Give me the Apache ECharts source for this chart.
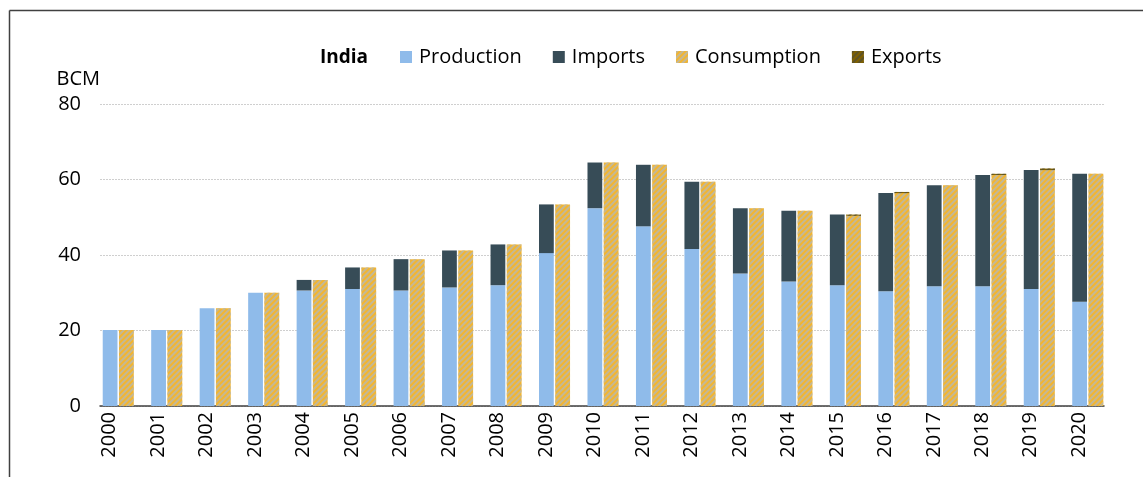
<!DOCTYPE html>
<html>
<head>
<meta charset="utf-8">
<script src="https://cdn.jsdelivr.net/npm/echarts@6/dist/echarts.min.js"></script>
<style>
html,body{margin:0;padding:0;background:#fff;}
#chart{width:1143px;height:477px;}
</style>
</head>
<body>
<div id="chart"></div>
<script>
var years = ['2000','2001','2002','2003','2004','2005','2006','2007','2008','2009','2010','2011','2012','2013','2014','2015','2016','2017','2018','2019','2020'];
var production = [20.1, 20.1, 25.9, 30.0, 30.6, 31.0, 30.6, 31.4, 32.0, 40.5, 52.4, 47.6, 41.6, 35.1, 33.0, 32.0, 30.4, 31.7, 31.7, 31.0, 27.6];
var imports = [0, 0, 0, 0, 2.8, 5.7, 8.3, 9.8, 10.8, 12.9, 12.1, 16.3, 17.8, 17.3, 18.7, 18.7, 26.0, 26.8, 29.5, 31.5, 33.9];
var consumption = [20.1, 20.1, 25.9, 30.0, 33.4, 36.7, 38.9, 41.2, 42.8, 53.4, 64.5, 63.9, 59.4, 52.4, 51.7, 50.4, 56.4, 58.5, 61.2, 62.5, 61.5];
var exports = [0, 0, 0, 0, 0, 0, 0, 0, 0, 0, 0, 0, 0, 0, 0, 0.3, 0.3, 0, 0.3, 0.4, 0];
var yTicks = {min: 0, max: 80, interval: 20};

var FONT = '"Open Sans", "Noto Sans", sans-serif';
var chart = echarts.init(document.getElementById('chart'), null, {renderer: 'canvas'});

var option = {
  animation: false,
  backgroundColor: '#ffffff',
  textStyle: {fontFamily: FONT},
  title: {
    text: 'India',
    left: 315,
    top: 43,
    textStyle: {fontFamily: FONT, fontSize: 19, fontWeight: 'bold', color: '#000'}
  },
  legend: {
    left: 395,
    top: 42,
    icon: 'rect',
    itemWidth: 12,
    itemHeight: 12,
    itemGap: 31,
    textStyle: {fontFamily: FONT, fontSize: 20, color: '#000', padding: [0, 0, 0, 2]},
    data: ['Production', 'Imports', 'Consumption', 'Exports']
  },
  grid: [
    {left: 94, right: 31, top: 104, bottom: 71},
    {left: 100, right: 39, top: 104, bottom: 71},
    {left: 85.5, right: 39.5, top: 104, bottom: 71}
  ],
  xAxis: [
    {
      type: 'category', gridIndex: 0, data: years,
      axisLine: {show: false}, axisTick: {show: false}, axisLabel: {show: false}
    },
    {
      type: 'category', gridIndex: 1, data: years,
      axisLine: {show: true, lineStyle: {color: '#404040', width: 1.5}},
      axisTick: {show: false}, axisLabel: {show: false}
    },
    {
      type: 'category', gridIndex: 2, data: years,
      axisLine: {show: false}, axisTick: {show: false},
      axisLabel: {rotate: 90, fontSize: 20, color: '#000', margin: 6, fontFamily: FONT}
    }
  ],
  yAxis: [
    {type: 'value', gridIndex: 0, min: yTicks.min, max: yTicks.max, interval: yTicks.interval, show: false},
    {
      type: 'value', gridIndex: 1, min: yTicks.min, max: yTicks.max, interval: yTicks.interval,
      name: 'BCM', nameLocation: 'end', nameGap: 15,
      nameTextStyle: {fontSize: 20, color: '#000', align: 'right', fontFamily: FONT},
      axisLine: {show: false}, axisTick: {show: false},
      axisLabel: {fontSize: 20, color: '#000', margin: 19, fontFamily: FONT},
      splitLine: {show: true, lineStyle: {color: '#cfcfcf', width: 1, type: [2, 1]}}
    },
    {type: 'value', gridIndex: 2, min: yTicks.min, max: yTicks.max, interval: yTicks.interval, show: false}
  ],
  series: [
    {
      name: 'Production', type: 'bar', stack: 'supply', xAxisIndex: 0, yAxisIndex: 0,
      data: production, barCategoryGap: '36%', barGap: '10%',
      itemStyle: {color: '#8FBBEA'}
    },
    {
      name: 'Imports', type: 'bar', stack: 'supply', xAxisIndex: 0, yAxisIndex: 0,
      data: imports,
      itemStyle: {color: '#374C57'}
    },
    {
      name: 'Consumption', type: 'bar', stack: 'demand', xAxisIndex: 0, yAxisIndex: 0,
      data: consumption,
      itemStyle: {
        color: '#F2B531',
        decal: {symbol: 'rect', symbolSize: 1, color: '#C4B895', dashArrayX: [1, 0], dashArrayY: [2, 2], rotation: -Math.PI / 4}
      }
    },
    {
      name: 'Exports', type: 'bar', stack: 'demand', xAxisIndex: 0, yAxisIndex: 0,
      data: exports,
      itemStyle: {
        color: '#7F6000',
        decal: {symbol: 'rect', symbolSize: 1, color: '#5E5326', dashArrayX: [1, 0], dashArrayY: [2, 2], rotation: -Math.PI / 4}
      }
    }
  ],
  graphic: [
    {type: 'line', shape: {x1: 9.5, y1: 10.5, x2: 1143, y2: 10.5}, style: {stroke: '#404040', lineWidth: 1.5}, silent: true},
    {type: 'line', shape: {x1: 9.5, y1: 10.5, x2: 9.5, y2: 477}, style: {stroke: '#404040', lineWidth: 1.5}, silent: true}
  ]
};
chart.setOption(option);
</script>
</body>
</html>
